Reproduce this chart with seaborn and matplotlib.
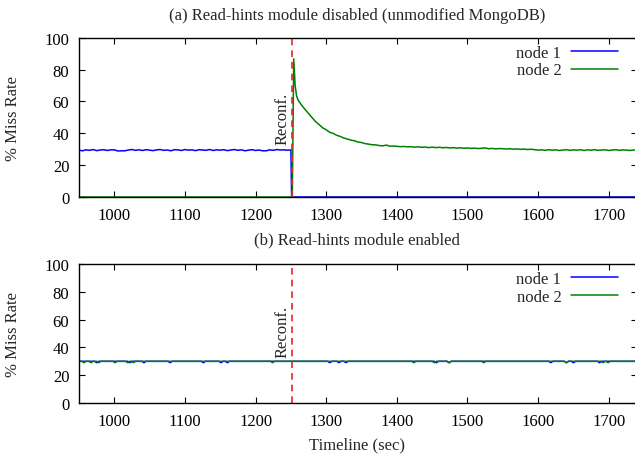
import numpy as np
import pandas as pd
import matplotlib
matplotlib.use("Agg")
import matplotlib.pyplot as plt
import seaborn as sns

# (a) module disabled -- node 1 before the reconfiguration, 5 s samples from t=950
top_n1_vals = [29.4, 29.0, 29.6, 29.3, 29.8, 29.1, 29.5, 29.7, 29.2, 29.6,
               29.6, 28.9, 29.0, 29.0, 29.5, 29.8, 29.3, 29.6, 29.2, 29.7,
               29.4, 29.1, 29.6, 29.8, 29.3, 29.5, 29.0, 29.7, 29.6, 29.2,
               29.8, 29.4, 29.6, 29.1, 29.7, 29.5, 29.3, 29.8, 29.2, 29.6,
               29.4, 29.7, 29.1, 29.5, 29.8, 29.3, 29.6, 29.0, 29.4, 29.7,
               29.2, 29.5, 29.0, 29.0, 29.6, 29.3, 29.8, 29.5, 29.6, 29.4, 29.5]
top_n1_tail_t = [1251, 1740]
top_n1_tail_v = [0.0, 0.0]

# node 2 picks up the load after reconf
top_n2_head_t = [950, 1252, 1254, 1256, 1258, 1260, 1263, 1266, 1270, 1275,
                 1280, 1285, 1290, 1295, 1300, 1305, 1310, 1315, 1320, 1325,
                 1330, 1335, 1340, 1345, 1350, 1355, 1360, 1365, 1370, 1375,
                 1380, 1385, 1390, 1395]
top_n2_head_v = [0.0, 0.0, 86.7, 70.0, 63.5, 61.0, 59.0, 57.2, 55.0, 52.4,
                 49.8, 47.3, 45.4, 43.4, 42.2, 40.6, 39.9, 38.7, 38.0, 37.0,
                 36.4, 35.7, 35.3, 34.5, 34.2, 33.5, 33.2, 32.8, 32.7, 32.3,
                 32.1, 32.6, 31.9, 32.0]
# 5 s samples from t=1400
top_n2_tail_v = [31.8, 31.6, 31.7, 31.5, 31.6, 31.3, 31.5, 31.2, 31.4, 31.0, 31.3,
                 31.0, 31.2, 30.9, 31.1, 30.8, 31.0, 30.7, 30.9, 30.6, 30.8,
                 30.5, 30.7, 30.4, 30.6, 30.8, 30.3, 30.5, 30.2, 30.4, 30.3,
                 30.1, 30.3, 30.0, 30.2, 29.9, 30.1, 29.8, 30.0, 29.7, 29.4,
                 29.6, 29.3, 29.7, 29.4, 29.6, 29.2, 29.5, 29.7, 29.3, 29.6,
                 29.4, 29.7, 29.2, 29.6, 29.4, 29.7, 29.3, 29.5, 29.6, 29.2,
                 29.5, 29.7, 29.3, 29.6, 29.4, 29.2, 29.5, 29.4]

# (b) module enabled -- both nodes flat ~30 with a few small dips
bot_n1_t = [950, 972, 975, 978, 1019, 1022, 1025, 1039, 1042, 1045,
            1076, 1079, 1082, 1123, 1126, 1129, 1148, 1151, 1154, 1157,
            1160, 1163, 1302, 1305, 1308, 1315, 1318, 1321, 1325, 1328,
            1331, 1453, 1456, 1459, 1471, 1474, 1477, 1615, 1618, 1621,
            1637, 1640, 1643, 1647, 1650, 1653, 1684, 1687, 1690, 1740]
bot_n1_v = [30.0, 30.0, 29.0, 30.0, 30.0, 29.0, 30.0, 30.0, 29.0, 30.0,
            30.0, 29.0, 30.0, 30.0, 29.0, 30.0, 30.0, 29.0, 30.0, 30.0,
            29.0, 30.0, 30.0, 29.0, 30.0, 30.0, 29.0, 30.0, 30.0, 29.0,
            30.0, 30.0, 29.0, 30.0, 30.0, 29.0, 30.0, 30.0, 29.0, 30.0,
            30.0, 29.0, 30.0, 30.0, 29.0, 30.0, 30.0, 29.0, 30.0, 30.0]
bot_n2_t = [950, 954, 957, 960, 964, 967, 970, 975, 978, 981,
            998, 1001, 1004, 1016, 1019, 1022, 1024, 1027, 1030, 1221,
            1224, 1227, 1421, 1424, 1427, 1450, 1453, 1456, 1471, 1474,
            1477, 1520, 1523, 1526, 1637, 1640, 1643, 1689, 1692, 1695,
            1696, 1699, 1702, 1740]
bot_n2_v = [30.0, 30.0, 29.0, 30.0, 30.0, 29.0, 30.0, 30.0, 29.0, 30.0,
            30.0, 29.0, 30.0, 30.0, 29.0, 30.0, 30.0, 29.0, 30.0, 30.0,
            29.0, 30.0, 30.0, 29.0, 30.0, 30.0, 29.0, 30.0, 30.0, 29.0,
            30.0, 30.0, 29.0, 30.0, 30.0, 29.0, 30.0, 30.0, 29.0, 30.0,
            30.0, 29.0, 30.0, 30.0]

reconf_t = 1252
x_ticks = [1000, 1100, 1200, 1300, 1400, 1500, 1600, 1700]
y_ticks = [0, 20, 40, 60, 80, 100]

top_n1_t = list(np.arange(950, 950 + 5 * len(top_n1_vals), 5)) + top_n1_tail_t
top_n2_t = top_n2_head_t + list(np.arange(1400, 1400 + 5 * len(top_n2_tail_v), 5))

df_top = pd.concat([
    pd.DataFrame({"t": top_n1_t, "rate": top_n1_vals + top_n1_tail_v, "node": "node 1"}),
    pd.DataFrame({"t": top_n2_t, "rate": top_n2_head_v + top_n2_tail_v, "node": "node 2"}),
], ignore_index=True)
df_bot = pd.concat([
    pd.DataFrame({"t": bot_n1_t, "rate": bot_n1_v, "node": "node 1"}),
    pd.DataFrame({"t": bot_n2_t, "rate": bot_n2_v, "node": "node 2"}),
], ignore_index=True)

sns.set_style("ticks")
plt.rcParams["font.family"] = ["Liberation Serif", "DejaVu Serif"]
plt.rcParams["font.size"] = 12

fig = plt.figure(figsize=(6.35, 4.6), dpi=100)
W, H = 635, 460
ax1 = fig.add_axes([79 / W, 1 - 198 / H, 558 / W, 159.3 / H])
ax2 = fig.add_axes([79 / W, 1 - 404 / H, 558 / W, 139 / H])

palette = {"node 1": "#0000ff", "node 2": "#008000"}

for ax, df, h in [(ax1, df_top, 159.3), (ax2, df_bot, 139)]:
    sns.lineplot(data=df, x="t", y="rate", hue="node", palette=palette,
                 estimator=None, sort=False, lw=1.1, ax=ax)
    ax.axvline(reconf_t, color="#e3262b", ls=(0, (4, 3)), lw=1.2)
    ax.text(reconf_t - 2, 33, "Reconf.", rotation=90, ha="right", va="bottom")
    ax.set_xlim(950, 1740)
    ax.set_ylim(0, 100)
    ax.set_xticks(x_ticks)
    ax.set_yticks(y_ticks)
    ax.tick_params(direction="in", top=True, right=True, length=4, width=0.8,
                   pad=7, colors="black")
    for s in ax.spines.values():
        s.set_color("black")
        s.set_linewidth(1.0)
    ax.set_xlabel("")
    ax.set_ylabel("% Miss Rate")
    ax.yaxis.set_label_coords(-0.104, 0.5)
    ax.legend(loc="upper right", bbox_to_anchor=(0.966, 1 - 7 / h),
              frameon=False, markerfirst=False, handlelength=2.8,
              handletextpad=0.6, labelspacing=0.1, borderpad=0, borderaxespad=0)

fig.text(357 / W, 1 - 16 / H, "(a) Read-hints module disabled (unmodified MongoDB)",
         ha="center", va="center")
fig.text(357 / W, 1 - 240 / H, "(b) Read-hints module enabled", ha="center", va="center")
fig.text(357 / W, 1 - 445 / H, "Timeline (sec)", ha="center", va="center")

fig.savefig("out.png", dpi=100)
